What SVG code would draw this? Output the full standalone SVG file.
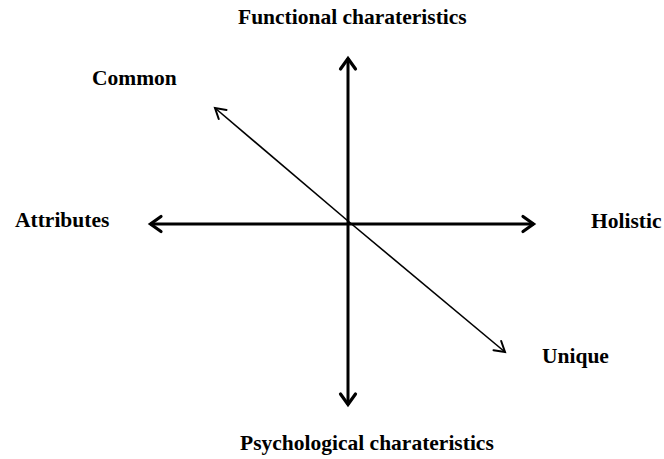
<svg xmlns="http://www.w3.org/2000/svg" width="664" height="459" viewBox="0 0 664 459">
<defs>
<style>
.lbl{font-family:"Liberation Serif","Times New Roman",serif;font-weight:bold;font-size:21.5px;fill:#000}
.axis{stroke:#000;stroke-width:3;fill:none}
.diag{stroke:#000;stroke-width:1.6;fill:none}
</style>
<marker id="ah" markerUnits="userSpaceOnUse" viewBox="-16 -10 20 20" markerWidth="20" markerHeight="20" refX="0" refY="0" orient="auto">
<path d="M -11,-7.5 L -0.5,0 L -11,7.5" fill="none" stroke="#000" stroke-width="3.2" stroke-linecap="round" stroke-linejoin="miter"/>
</marker>
<marker id="ahs" markerUnits="userSpaceOnUse" viewBox="-16 -10 20 20" markerWidth="20" markerHeight="20" refX="0" refY="0" orient="auto">
<path d="M -10,-6 L 0,0 L -10,6" fill="none" stroke="#000" stroke-width="2" stroke-linecap="round"/>
</marker>
</defs>
<rect width="664" height="459" fill="#fff"/>
<g id="connectors">
<line class="axis" x1="348" y1="224" x2="348" y2="58" marker-end="url(#ah)"/>
<line class="axis" x1="348" y1="224" x2="348" y2="405" marker-end="url(#ah)"/>
<line class="axis" x1="348" y1="224" x2="150" y2="224" marker-end="url(#ah)"/>
<line class="axis" x1="348" y1="224" x2="534" y2="224" marker-end="url(#ah)"/>
<line class="diag" x1="348" y1="221" x2="215" y2="108" marker-end="url(#ahs)"/>
<line class="diag" x1="348" y1="221" x2="505" y2="352" marker-end="url(#ahs)"/>
</g>
<g id="n-functional"><text class="lbl" x="238" y="24">Functional charateristics</text></g>
<g id="n-common"><text class="lbl" x="92" y="85">Common</text></g>
<g id="n-attributes"><text class="lbl" x="15" y="227">Attributes</text></g>
<g id="n-holistic"><text class="lbl" x="591" y="228">Holistic</text></g>
<g id="n-unique"><text class="lbl" x="542" y="363">Unique</text></g>
<g id="n-psychological"><text class="lbl" x="240" y="450">Psychological charateristics</text></g>
</svg>
